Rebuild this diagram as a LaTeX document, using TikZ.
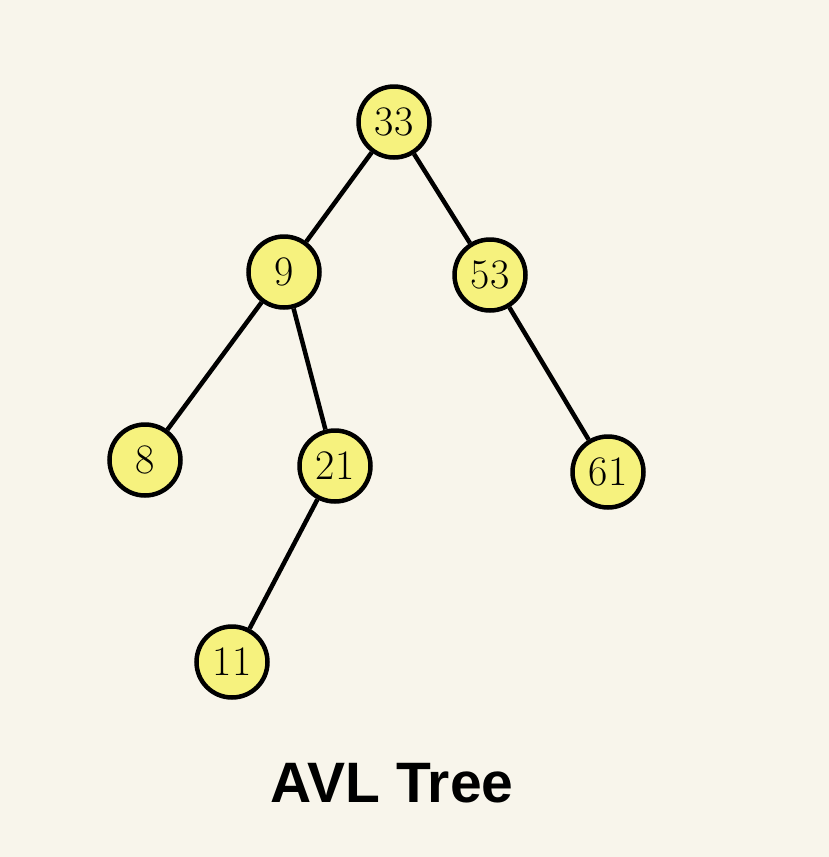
\documentclass[tikz,border=0pt]{standalone}
\usepackage{fontspec}
\newfontfamily\titlefont{Liberation Sans}
\usepackage{xcolor}
\definecolor{paper}{HTML}{F8F5EB}
\definecolor{nodeyellow}{HTML}{F6F27E}
\tikzset{avl/.style={circle, draw=black, line width=4.5pt, fill=nodeyellow, minimum size=71pt, inner sep=0pt, font=\fontsize{42}{42}\selectfont}}
\tikzset{branch/.style={black, line width=4.5pt}}

\begin{document}
\begin{tikzpicture}[x=1pt,y=-1pt]
\fill[paper] (0,0) rectangle (829,857);
\useasboundingbox (0,0) rectangle (829,857);
\foreach \name/\x/\y in {33/394/122, 9/284/272, 53/490/275, 8/145/460, 21/335/466, 61/608/472, 11/232/662} {
 \node[avl] (n\name) at (\x,\y) {\name};
}
\foreach \a/\b in {33/9, 33/53, 9/8, 9/21, 21/11, 53/61} {
 \draw[branch] (n\a) -- (n\b);
}
\node[anchor=base, font=\titlefont\bfseries\fontsize{57}{57}\selectfont] (title) at (392,802) {AVL Tree};
\end{tikzpicture}
\end{document}
